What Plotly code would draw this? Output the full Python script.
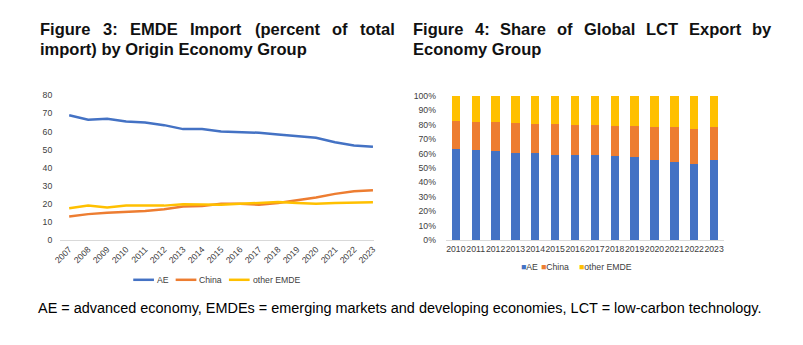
import plotly.graph_objects as go

# ---------------- data ----------------
years_line = [str(y) for y in range(2007, 2024)]
ae_import = [69.0, 66.5, 67.0, 65.5, 65.0, 63.5, 61.3, 61.3, 60.0, 59.5, 59.3, 58.3, 57.5, 56.5, 54.0, 52.3, 51.5]
china_import = [13.0, 14.3, 15.0, 15.5, 16.0, 17.0, 18.5, 18.8, 20.0, 20.0, 19.5, 20.5, 22.0, 23.5, 25.5, 27.0, 27.5]
other_import = [17.5, 19.0, 18.0, 19.0, 19.0, 19.0, 19.8, 19.5, 19.5, 20.0, 20.5, 21.0, 20.5, 20.0, 20.5, 20.5, 20.8]

years_bar = [str(y) for y in range(2010, 2024)]
ae_export = [0.63, 0.625, 0.62, 0.60, 0.60, 0.59, 0.59, 0.59, 0.585, 0.575, 0.555, 0.54, 0.53, 0.555]
china_export = [0.195, 0.195, 0.195, 0.21, 0.205, 0.215, 0.205, 0.205, 0.205, 0.215, 0.225, 0.24, 0.24, 0.225]
other_export = [round(1 - a - c, 3) for a, c in zip(ae_export, china_export)]

series_names = ["AE", "China", "other EMDE"]
colors = ["#4472C4", "#ED7D31", "#FFC000"]

title_left_l1 = ["Figure", "3:", "EMDE", "Import", "(percent", "of", "total"]
title_left_l2 = "import) by Origin Economy Group"
title_right_l1 = ["Figure", "4:", "Share", "of", "Global", "LCT", "Export", "by"]
title_right_l2 = "Economy Group"
caption = "AE = advanced economy, EMDEs = emerging markets and developing economies, LCT = low-carbon technology."

W, H = 803, 345
FONT = "Liberation Sans, Arial, sans-serif"
TICK = "#404040"
AXLINE = "#D9D9D9"
TS = 8.7  # chart text size

fig = go.Figure()

for name, vals, col in zip(series_names, [ae_import, china_import, other_import], colors):
    fig.add_trace(go.Scatter(x=years_line, y=vals, mode="lines", name=name,
                             line=dict(color=col, width=2.5), xaxis="x", yaxis="y",
                             showlegend=False))

for name, vals, col in zip(series_names, [ae_export, china_export, other_export], colors):
    fig.add_trace(go.Bar(x=years_bar, y=vals, name=name, marker=dict(color=col, line=dict(width=0)),
                         xaxis="x2", yaxis="y2", showlegend=False))

def px(x):
    return x / W

def py(y):
    return 1 - y / H

tickfont = dict(family=FONT, size=TS, color=TICK)

fig.update_layout(
    width=W, height=H,
    margin=dict(l=0, r=0, t=0, b=0),
    paper_bgcolor="white", plot_bgcolor="white",
    barmode="stack", bargap=0.58,
    font=dict(family=FONT, size=TS, color=TICK),
    xaxis=dict(domain=[px(54), px(372)], type="category", range=[-0.47, 16.05],
               showgrid=False, showline=True, linecolor=AXLINE, linewidth=1,
               ticks="", tickangle=-45, tickfont=tickfont, anchor="y"),
    yaxis=dict(domain=[py(242), py(93)], range=[0, 80], dtick=10, showgrid=False,
               zeroline=False, showline=False, ticks="", tickfont=tickfont,
               ticklabelstandoff=7, anchor="x"),
    xaxis2=dict(domain=[px(445), px(727)], type="category", range=[-0.5, 13.5],
                showgrid=False, showline=True, linecolor=AXLINE, linewidth=1,
                ticks="", tickangle=0, tickfont=tickfont, anchor="y2"),
    yaxis2=dict(domain=[py(242.3), py(93.3)], range=[0, 1], dtick=0.1, tickformat=".0%",
                showgrid=False, zeroline=False, showline=False, ticks="",
                tickfont=tickfont, ticklabelstandoff=9, anchor="x2"),
    showlegend=False,
)

ann = []
shapes = []

# legend of the line chart (line samples + labels)
leg1_line_x = [128, 171, 225]
for name, col, lx in zip(series_names, colors, leg1_line_x):
    shapes.append(dict(type="line", xref="paper", yref="paper", x0=px(lx), x1=px(lx + 21),
                       y0=py(283), y1=py(283), line=dict(color=col, width=2.5)))
    ann.append(dict(text=name, x=px(lx + 22), y=py(283), xref="paper", yref="paper",
                    xanchor="left", yanchor="middle", showarrow=False,
                    font=dict(family=FONT, size=TS, color=TICK)))

# legend of the bar chart (squares + labels)
leg2_x = [519, 539, 578]
for name, col, lx in zip(series_names, colors, leg2_x):
    ann.append(dict(text="<span style='color:%s'>■</span>%s" % (col, name), x=px(lx), y=py(270),
                    xref="paper", yref="paper", xanchor="left", yanchor="middle", showarrow=False,
                    font=dict(family=FONT, size=TS, color=TICK)))

tfont = dict(family=FONT, size=16.5, color="#111111")
left_pos = [31, 95, 123, 184, 249, 327, 356]
for w, xp in zip(title_left_l1, left_pos):
    ann.append(dict(text="<b>%s</b>" % w, x=px(xp), y=py(24.5), xref="paper", yref="paper",
                    xanchor="left", yanchor="middle", showarrow=False, font=tfont))
ann.append(dict(text="<b>%s</b>" % title_left_l2, x=px(31), y=py(45), xref="paper", yref="paper",
                xanchor="left", yanchor="middle", showarrow=False, font=tfont))
right_pos = [410, 472, 498, 555.5, 582.5, 645.5, 689, 753]
for w, xp in zip(title_right_l1, right_pos):
    ann.append(dict(text="<b>%s</b>" % w, x=px(xp), y=py(24.5), xref="paper", yref="paper",
                    xanchor="left", yanchor="middle", showarrow=False, font=tfont))
ann.append(dict(text="<b>%s</b>" % title_right_l2, x=px(410), y=py(45), xref="paper", yref="paper",
                xanchor="left", yanchor="middle", showarrow=False, font=tfont))
ann.append(dict(text=caption, x=px(29), y=py(312), xref="paper", yref="paper",
                xanchor="left", yanchor="middle", showarrow=False,
                font=dict(family=FONT, size=14.45, color="#000000")))
fig.update_layout(annotations=ann, shapes=shapes)

fig.write_html("out.html")
